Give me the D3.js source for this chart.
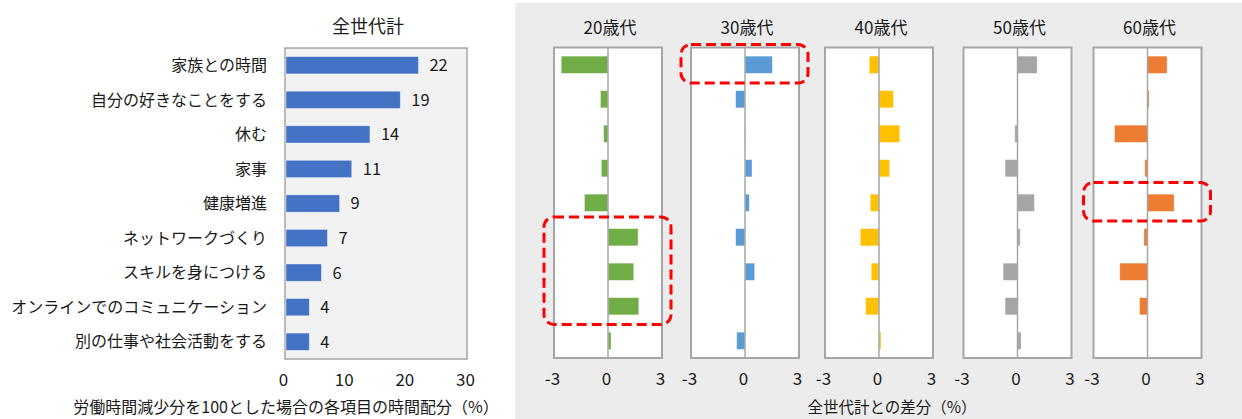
<!DOCTYPE html>
<html>
<head>
<meta charset="utf-8">
<script src="https://cdn.jsdelivr.net/npm/d3@7/dist/d3.min.js"></script>
<style>
  html, body { margin: 0; padding: 0; background: #ffffff; }
  svg { display: block; font-family: "Noto Sans CJK JP", "Noto Sans", sans-serif; }
</style>
</head>
<body>
<svg id="chart" width="1242" height="419"></svg>
<script>
// Activities, in display order
const categories = [
  "家族との時間",
  "自分の好きなことをする",
  "休む",
  "家事",
  "健康増進",
  "ネットワークづくり",
  "スキルを身につける",
  "オンラインでのコミュニケーション",
  "別の仕事や社会活動をする"
];

// Share of freed-up working time, all ages (%)
const totalShare = [22, 19, 14, 11, 9, 7, 6, 4, 4];
const totalTicks = [0, 10, 20, 30];

// Difference from the all-age figure, by age group (percentage points)
const ageGroups = ["20歳代", "30歳代", "40歳代", "50歳代", "60歳代"];
const diff20s = [-2.6, -0.42, -0.24, -0.37, -1.31, 1.67, 1.43, 1.71, 0.17];
const diff30s = [1.52, -0.52, -0.03, 0.39, 0.24, -0.52, 0.54, 0.0, -0.46];
const diff40s = [-0.54, 0.8, 1.15, 0.59, -0.48, -1.04, -0.43, -0.74, 0.11];
const diff50s = [1.09, 0.03, -0.15, -0.69, 0.94, 0.15, -0.8, -0.69, 0.2];
const diff60s = [1.09, 0.09, -1.83, -0.15, 1.48, -0.2, -1.54, -0.44, 0.0];
const diffTicks = [-3, 0, 3];

// Highlighted rows: age-group index and first/last category index
const highlights = [
  { group: 1, first: 0, last: 0 },
  { group: 0, first: 5, last: 7 },
  { group: 4, first: 4, last: 4 }
];

const diffSeries = [diff20s, diff30s, diff40s, diff50s, diff60s];
const groupColors = ["#70ad47", "#5b9bd5", "#ffc000", "#a5a5a5", "#ed7d31"];

const svg = d3.select("#chart");
const font = "\"Noto Sans CJK JP\", \"Noto Sans\", sans-serif";
const textColor = "#1a1a1a";
const frameColor = "#a6a6a6";

// ---------- left: all-age allocation ----------
const plotTop = 48, plotBottom = 359;
const leftX = d3.scaleLinear().domain([0, 30]).range([285, 467]);
const rowY = d3.scaleBand().domain(d3.range(categories.length))
  .range([plotTop, plotBottom]).paddingInner(0.5).paddingOuter(0.25);

const left = svg.append("g");
left.append("rect")
  .attr("x", leftX(0)).attr("y", plotTop)
  .attr("width", leftX(30) - leftX(0)).attr("height", plotBottom - plotTop)
  .attr("fill", "#f2f2f2").attr("stroke", frameColor).attr("stroke-width", 1.5);

left.selectAll("rect.bar").data(totalShare).join("rect")
  .attr("class", "bar")
  .attr("x", leftX(0) + 1)
  .attr("y", (d, i) => rowY(i))
  .attr("width", d => leftX(d) - leftX(0) - 1)
  .attr("height", rowY.bandwidth())
  .attr("fill", "#4472c4")
  .attr("stroke", "#ffffff").attr("stroke-opacity", 0.5).attr("stroke-width", 0.75);

left.selectAll("text.val").data(totalShare).join("text")
  .attr("class", "val")
  .attr("x", d => leftX(d) + 11)
  .attr("y", (d, i) => rowY(i) + rowY.bandwidth() / 2)
  .attr("dy", "0.36em")
  .attr("font-size", 16.5).attr("fill", textColor)
  .text(d => d);

left.selectAll("text.cat").data(categories).join("text")
  .attr("class", "cat")
  .attr("x", 267)
  .attr("y", (d, i) => rowY(i) + rowY.bandwidth() / 2)
  .attr("dy", "0.36em")
  .attr("text-anchor", "end")
  .attr("font-size", 16).attr("fill", textColor)
  .text(d => d);

const leftAxis = left.append("g")
  .attr("transform", `translate(-2,${plotBottom})`)
  .call(d3.axisBottom(leftX).tickValues(totalTicks).tickSize(0).tickPadding(15).tickFormat(d3.format("d")));
leftAxis.select(".domain").remove();
leftAxis.selectAll("text").attr("font-size", 17).attr("fill", textColor).attr("font-family", font);

left.append("text")
  .attr("x", 368).attr("y", 27).attr("dy", "0.36em")
  .attr("text-anchor", "middle").attr("font-size", 18).attr("fill", textColor)
  .text("全世代計");

left.append("text")
  .attr("x", 286).attr("y", 407).attr("dy", "0.36em")
  .attr("text-anchor", "middle").attr("font-size", 16).attr("fill", textColor)
  .text("労働時間減少分を100とした場合の各項目の時間配分（%）");

// ---------- right: difference by age group ----------
svg.append("rect")
  .attr("x", 515).attr("y", 3).attr("width", 1242 - 515).attr("height", 419 - 3)
  .attr("fill", "#ececec");

const panelLefts = [554, 691, 825, 963.5, 1093.5];
const panelWidth = 108;
const panelTop = 47.5, panelBottom = 358;
const panelRowY = d3.scaleBand().domain(d3.range(categories.length))
  .range([panelTop, panelBottom]).paddingInner(0.5).paddingOuter(0.25);
const panelRows = d3.scaleBand().domain(d3.range(categories.length))
  .range([panelTop, panelBottom]).padding(0);

const panelScales = panelLefts.map(x0 =>
  d3.scaleLinear().domain([-3, 3]).range([x0, x0 + panelWidth]));

ageGroups.forEach((name, g) => {
  const x = panelScales[g];
  const p = svg.append("g");
  p.append("rect")
    .attr("x", x(-3)).attr("y", panelTop)
    .attr("width", x(3) - x(-3)).attr("height", panelBottom - panelTop)
    .attr("fill", "#ffffff").attr("stroke", frameColor).attr("stroke-width", 2);

  p.selectAll("rect.bar").data(diffSeries[g]).join("rect")
    .attr("class", "bar")
    .attr("x", d => Math.min(x(0), x(d)))
    .attr("y", (d, i) => panelRowY(i))
    .attr("width", d => Math.abs(x(d) - x(0)))
    .attr("height", panelRowY.bandwidth())
    .attr("fill", groupColors[g])
    .attr("stroke", "#ffffff").attr("stroke-opacity", 0.5).attr("stroke-width", 0.75);

  p.append("line")
    .attr("x1", x(0)).attr("x2", x(0))
    .attr("y1", panelTop).attr("y2", panelBottom)
    .attr("stroke", frameColor).attr("stroke-width", 1.5);

  const ax = p.append("g")
    .attr("transform", `translate(-2,${panelBottom})`)
    .call(d3.axisBottom(x).tickValues(diffTicks).tickSize(0).tickPadding(15).tickFormat(d3.format("d")));
  ax.select(".domain").remove();
  ax.selectAll("text").attr("font-size", 17).attr("fill", textColor).attr("font-family", font)
    .text(d => d < 0 ? "-" + Math.abs(d) : d);

  p.append("text")
    .attr("x", x(0) + 2).attr("y", 28).attr("dy", "0.36em")
    .attr("text-anchor", "middle").attr("font-size", 17).attr("fill", textColor)
    .text(name);
});

svg.append("text")
  .attr("x", 892).attr("y", 407).attr("dy", "0.36em")
  .attr("text-anchor", "middle").attr("font-size", 15.5).attr("fill", textColor)
  .text("全世代計との差分（%）");

// dashed call-out frames around notable rows
svg.selectAll("rect.callout").data(highlights).join("rect")
  .attr("class", "callout")
  .attr("x", d => panelScales[d.group](-3) - 10)
  .attr("y", d => panelRows(d.first) - 3)
  .attr("width", panelWidth + 19)
  .attr("height", d => panelRows(d.last) + panelRows.bandwidth() - panelRows(d.first) + 4)
  .attr("rx", 10).attr("ry", 10)
  .attr("fill", "none")
  .attr("stroke", "#ff0000").attr("stroke-width", 3)
  .attr("stroke-dasharray", "10,5");
</script>
</body>
</html>
